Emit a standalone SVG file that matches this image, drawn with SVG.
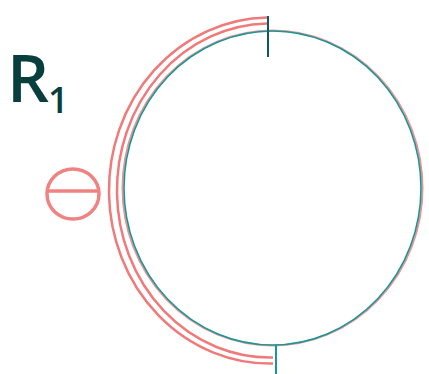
<svg xmlns="http://www.w3.org/2000/svg" width="429" height="374" viewBox="0 0 429 374">
<style>
.red{fill:none;stroke:#f07a7a;stroke-width:2.5}
.shadow{fill:none;stroke:#f29090;stroke-width:2}
.teal{fill:none;stroke:#14999a;stroke-width:1.6}
.tick{stroke:#0e5a5a;stroke-width:2}
.lbl{font-family:"Open Sans","Liberation Sans",Arial,sans-serif;font-weight:600;fill:#083f3c}
</style>
<rect width="429" height="374" fill="#ffffff"/>
<g id="band">
<path class="red" d="M267,17.5 A161,173 0 0 0 273,363.5"/>
<path class="red" d="M267,23.5 A153,167 0 0 0 273,357.5"/>
</g>
<g id="circle">
<ellipse class="shadow" cx="272.5" cy="188" rx="150" ry="157.5"/>
<ellipse class="teal" cx="272.5" cy="188" rx="148.5" ry="157"/>
</g>
<g id="connectors">
<line class="tick" x1="268" y1="16" x2="268" y2="57"/>
<line class="tick" x1="276" y1="345" x2="276" y2="374" style="stroke:#14999a"/>
</g>
<g id="charge" fill="none" stroke="#f08282" stroke-width="3.5">
<ellipse cx="73" cy="194" rx="26" ry="25"/>
<line x1="47" y1="191" x2="99" y2="191"/>
</g>
<g id="label">
<text class="lbl" x="7" y="102" font-size="66">R<tspan x="48" y="113" font-size="36">1</tspan></text>
</g>
</svg>
